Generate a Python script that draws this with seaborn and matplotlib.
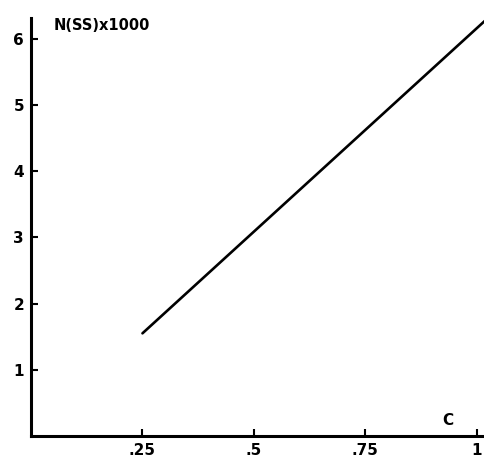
import matplotlib
matplotlib.use("Agg")
import matplotlib.pyplot as plt
import seaborn as sns
import pandas as pd

c_values = [0.25, 1.02]
n_values = [1.55, 6.28]
x_ticks = [0.25, 0.5, 0.75, 1.0]
x_tick_labels = [".25", ".5", ".75", "1"]
y_ticks = [1, 2, 3, 4, 5, 6]
y_tick_labels = ["1", "2", "3", "4", "5", "6"]

sns.set_theme(style="white")
plt.rcParams['font.family'] = ['DejaVu Sans']
plt.rcParams['text.color'] = 'black'

df = pd.DataFrame({"C": c_values, "N": n_values})

fig = plt.figure(figsize=(4.84, 4.62), dpi=100)
ax = fig.add_axes([31/484, 26/462, (484-31)/484, (436-18)/462])
sns.lineplot(data=df, x="C", y="N", ax=ax, color="black", linewidth=1.9, clip_on=False)

ax.set_xlim(0, 1.016)
ax.set_ylim(0, (437-18)/66.4)
for s in ["top", "right"]:
    ax.spines[s].set_visible(False)
for s in ["left", "bottom"]:
    ax.spines[s].set_color("black")
    ax.spines[s].set_linewidth(2.2)

ax.set_xticks(x_ticks)
ax.set_xticklabels(x_tick_labels, fontsize=11, fontweight="bold")
ax.set_yticks(y_ticks)
ax.set_yticklabels(y_tick_labels, fontsize=11, fontweight="bold")
ax.tick_params(axis="both", bottom=True, left=True, direction="in", length=5,
               width=1.5, colors="black", labelcolor="black", pad=5)
ax.set_xlabel("")
ax.set_ylabel("")

ax.text(0.05, 1.0, "N(SS)x1000", transform=ax.transAxes, fontsize=10.5,
        fontweight="bold", va="top", ha="left", color="black")
ax.text(0.92, 0.02, "C", transform=ax.transAxes, fontsize=11,
        fontweight="bold", va="bottom", ha="center", color="black")

fig.savefig("out.png", dpi=100)
